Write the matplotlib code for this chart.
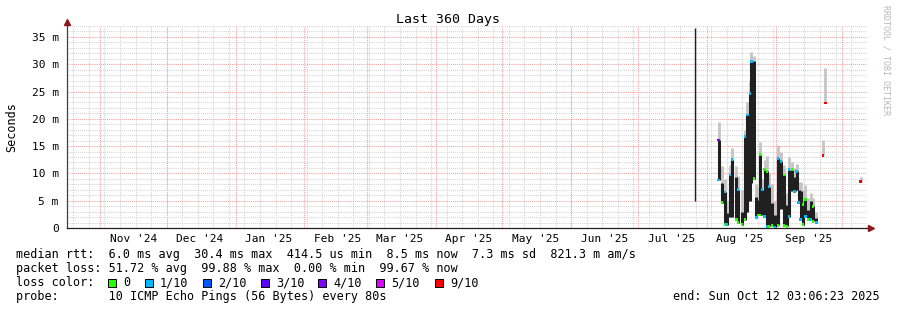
import pandas as pd
import matplotlib
matplotlib.use('Agg')
import matplotlib.pyplot as plt

plt.rcParams['font.family'] = ['DejaVu Sans Mono']

start = pd.Timestamp('2024-10-17 03:06:23')
end = pd.Timestamp('2025-10-12 03:06:23')

# days since start of the graph
day = [282.6, 293.2, 294.8, 296.1, 297.0, 298.4, 299.3, 301.1, 302.0, 303.8,
       305.1, 306.2, 307.4, 308.0, 309.2, 310.1, 311.0, 311.9, 312.8, 313.9,
       315.0, 315.9, 317.3, 318.6, 320.0, 321.3, 322.7, 324.0, 324.9, 326.3,
       327.4, 328.3, 329.2, 330.1, 331.2, 332.3, 333.5, 334.6, 335.7, 337.1,
       340.2, 341.3, 357.1]
# median rtt band (ms)
med_hi = [36.6, 16.1, 8.3, 6.6, 2.8, 9.7, 12.5, 9.4, 7.0, 3.0,
          16.8, 20.7, 24.7, 30.5, 30.5, 5.7, 5.2, 13.4, 7.0, 10.7,
          10.4, 7.6, 4.6, 2.4, 12.8, 12.2, 9.7, 4.3, 10.7, 10.7,
          9.4, 10.4, 7.0, 6.7, 4.3, 5.2, 3.3, 4.9, 4.0, 1.9,
          13.3, 22.9, 8.5]
med_lo = [5.0, 8.8, 4.6, 0.6, 0.6, 2.1, 2.1, 1.5, 1.0, 0.6,
          1.5, 3.0, 5.0, 8.3, 9.0, 1.9, 2.4, 2.4, 2.4, 2.1,
          0.3, 0.3, 0.4, 0.1, 0.5, 3.5, 0.5, 0.3, 2.1, 6.7,
          6.7, 6.9, 4.6, 1.5, 0.6, 2.1, 1.5, 1.5, 1.2, 1.0,
          13.3, 22.9, 8.5]
# top of the smoke (ms)
smoke_hi = [36.6, 19.5, 11.3, 9.0, 5.0, 11.5, 14.7, 11.3, 9.5, 7.0,
            18.0, 23.0, 27.0, 32.3, 31.5, 8.0, 7.5, 15.8, 9.0, 12.5,
            13.1, 10.0, 8.0, 5.0, 15.2, 14.0, 11.5, 6.5, 13.0, 12.0,
            11.0, 11.8, 8.5, 8.5, 7.0, 7.9, 5.5, 6.5, 5.5, 3.0,
            16.2, 29.3, 9.4]
# loss class (index into loss_labels) of markers at band top / bottom, -1 = none
loss_hi = [-1, 4, -1, 1, -1, 1, 1, -1, 1, -1,
           1, 1, 1, 1, -1, -1, -1, 0, 1, 0,
           0, 1, -1, -1, 1, 1, 0, -1, 1, 0,
           -1, 1, -1, -1, 0, 0, -1, -1, 0, -1,
           6, 6, 6]
loss_lo = [-1, 1, 0, 0, 1, -1, -1, 0, 0, 0,
           0, -1, -1, -1, 0, 1, 0, 0, -1, 1,
           1, 0, 0, 1, 0, -1, 0, 0, 1, -1,
           1, -1, 1, 1, 0, 1, 0, 1, 0, 1,
           -1, -1, -1]

loss_labels = ['0', '1/10', '2/10', '3/10', '4/10', '5/10', '9/10']
loss_colors = ['#26ff00', '#00b8ff', '#0059ff', '#5e00ff', '#7e00ff', '#dd00ff', '#ff0000']

yticks = [0, 5, 10, 15, 20, 25, 30, 35]

W, H = 897, 310
fig = plt.figure(figsize=(W / 100, H / 100), dpi=100)
ax = fig.add_axes([67 / W, (H - 228) / H, 800 / W, 202 / H])

dates = start + pd.to_timedelta(day, unit='D')

# grid
weeks = pd.date_range('2024-10-20', end, freq='7D')
months = pd.date_range('2024-11-01', end, freq='MS')
for w in weeks:
    ax.axvline(w, color='#d4d4d4', lw=0.75, ls=(0, (1, 1)), zorder=0)
for m in range(0, 38):
    if m % 5:
        ax.axhline(m, color='#d4d4d4', lw=0.75, ls=(0, (1, 1)), zorder=0)
for mo in months:
    ax.axvline(mo, color='#f2a0a0', lw=0.75, ls=(0, (1, 1)), zorder=0)
for v in yticks[1:]:
    ax.axhline(v, color='#f2a0a0', lw=0.75, ls=(0, (1, 1)), zorder=0)

# smoke and median
ax.vlines(dates, med_hi, smoke_hi, color='#c4c4c4', lw=2.0, zorder=2)
ax.vlines(dates[:1], med_lo[:1], med_hi[:1], color='#202020', lw=1.0, zorder=3)
ax.vlines(dates[1:], med_lo[1:], med_hi[1:], color='#202020', lw=2.2, zorder=3)
for vals, codes in ((med_hi, loss_hi), (med_lo, loss_lo)):
    xs = [d for d, c in zip(dates, codes) if c >= 0]
    ys = [v for v, c in zip(vals, codes) if c >= 0]
    cs = [loss_colors[c] for c in codes if c >= 0]
    ax.scatter(xs, ys, c=cs, marker='s', s=4, linewidths=0, zorder=4)

ax.set_xlim(start, end)
ax.set_ylim(0, 37)

# axes
for s in ['top', 'right', 'left']:
    ax.spines[s].set_visible(False)
ax.spines['bottom'].set_color('#202020')
ax.spines['bottom'].set_linewidth(0.9)
ax.plot([0, 0], [0, 1.02], transform=ax.transAxes, color='#404040', lw=0.9, clip_on=False)
ax.plot([1.0, 1.005], [0, 0], transform=ax.transAxes, color='#202020', lw=0.9, clip_on=False)
ax.plot([0], [1.02], transform=ax.transAxes, marker='^', ms=4, color='#8b1a1a', clip_on=False)
ax.plot([1.005], [0], transform=ax.transAxes, marker='>', ms=4, color='#8b1a1a', clip_on=False)

ax.set_yticks(yticks)
ax.set_yticklabels(['0'] + ['%d m' % v for v in yticks[1:]], fontsize=8)
mids = [m + pd.Timedelta(days=15) for m in months]
mids = [m for m in mids if m < end - pd.Timedelta(days=15)]
ax.set_xticks(mids)
ax.set_xticklabels([m.strftime("%b '%y") for m in mids], fontsize=8)
ax.tick_params(axis='y', length=0, pad=6)
ax.tick_params(axis='x', length=0, pad=4)
ax.set_ylabel('Seconds', fontsize=8.5, labelpad=10)

fig.text(448 / W, 1 - 19 / H, 'Last 360 Days', ha='center', va='center', fontsize=9.5)
fig.text(886 / W, 1 - 60 / H, 'RRDTOOL / TOBI OETIKER', rotation=270, ha='center',
         va='center', fontsize=6, color='#b8b8b8')

fs = 8.5
lines = ["median rtt:  6.0 ms avg  30.4 ms max  414.5 us min  8.5 ms now  7.3 ms sd  821.3 m am/s",
         "packet loss: 51.72 % avg  99.88 % max  0.00 % min  99.67 % now",
         "loss color:",
         "probe:       10 ICMP Echo Pings (56 Bytes) every 80s"]
for i, t in enumerate(lines):
    fig.text(16 / W, 1 - (254.5 + 14 * i) / H, t, ha='left', va='center', fontsize=fs)

box_x = [108, 145, 203, 261, 318, 376, 435]
for bx, lab, col in zip(box_x, loss_labels, loss_colors):
    fig.patches.append(plt.Rectangle((bx / W, 1 - 287 / H), 8 / W, 8 / H,
                                     transform=fig.transFigure, facecolor=col,
                                     edgecolor='black', lw=0.7))
    fig.text((bx + 15) / W, 1 - 282.5 / H, lab, ha='left', va='center', fontsize=fs)

fig.text(880 / W, 1 - 296.5 / H, 'end: Sun Oct 12 03:06:23 2025', ha='right', va='center', fontsize=fs)

fig.savefig('out.png', dpi=100, facecolor='white')
